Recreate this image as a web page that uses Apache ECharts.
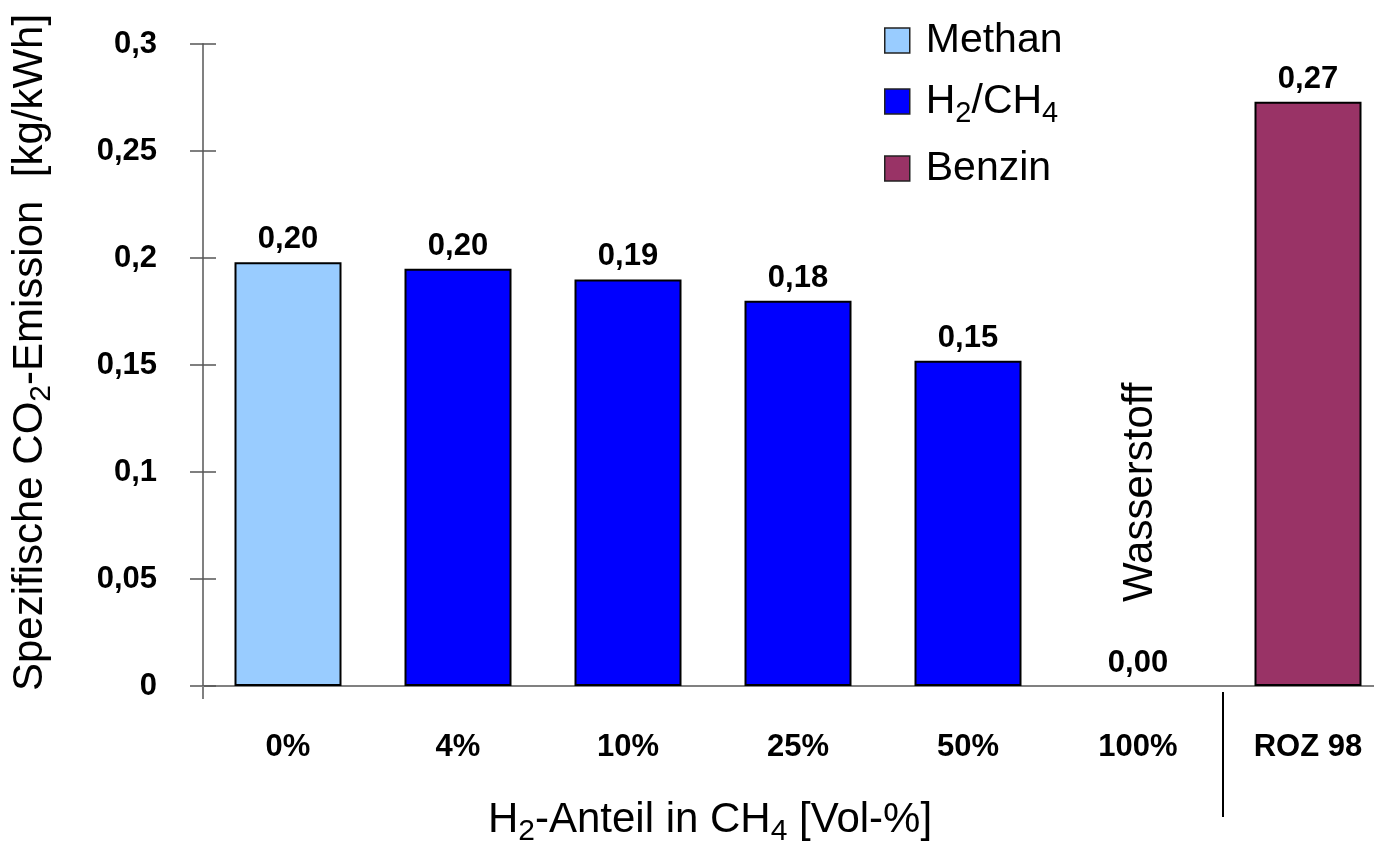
<!DOCTYPE html>
<html>
<head>
<meta charset="utf-8">
<script src="https://cdn.jsdelivr.net/npm/echarts@6/dist/echarts.min.js"></script>
<style>
  html, body { margin: 0; padding: 0; background: #fff; }
  #chart { width: 1374px; height: 849px; }
</style>
</head>
<body>
<div id="chart"></div>
<script>
// Specific CO2 emission per fuel / hydrogen share in methane
const categories = ['0%', '4%', '10%', '25%', '50%', '100%', 'ROZ 98'];
const methanValues = [0.198, '-', '-', '-', '-', '-', '-'];
const mixValues = ['-', 0.195, 0.190, 0.180, 0.152, 0, '-'];
const benzinValues = ['-', '-', '-', '-', '-', '-', 0.273];
const yMin = 0, yMax = 0.3, yStep = 0.05;

const FONT = '"Liberation Sans", Arial, Helvetica, sans-serif';
const AXIS_GRAY = '#808080';

const fmtTick = v => String(+v.toFixed(2)).replace('.', ',');
const fmtValue = p => (+p.value).toFixed(2).replace('.', ',');

const legendRich = {
  n: { fontFamily: FONT, fontSize: 41, color: '#000' },
  s: { fontFamily: FONT, fontSize: 29, color: '#000', padding: [24, 0, 0, 0] }
};
const legendNames = {
  'Methan': '{n|Methan}',
  'H2/CH4': '{n|H}{s|2}{n|/CH}{s|4}',
  'Benzin': '{n|Benzin}'
};

const barLabel = {
  show: true, position: 'top', distance: 7,
  fontFamily: FONT, fontSize: 31, fontWeight: 'bold', color: '#000',
  formatter: fmtValue
};
const barStyle = color => ({ color: color, borderColor: '#000', borderWidth: 2 });

const chart = echarts.init(document.getElementById('chart'), null, { renderer: 'canvas' });

chart.setOption({
  animation: false,
  backgroundColor: '#fff',
  textStyle: { fontFamily: FONT },
  grid: { left: 203, top: 44, width: 1190, height: 642, containLabel: false, outerBoundsMode: 'none' },
  legend: {
    orient: 'vertical', left: 879, top: 15,
    icon: 'rect',
    itemWidth: 25, itemHeight: 25, itemGap: 20,
    selectedMode: false,
    data: ['Methan', 'H2/CH4', 'Benzin'],
    formatter: name => legendNames[name],
    itemStyle: { borderColor: '#222', borderWidth: 1.5 },
    textStyle: { fontFamily: FONT, fontSize: 41, color: '#000', padding: [0, 0, 0, 11], rich: legendRich }
  },
  xAxis: {
    type: 'category',
    data: categories,
    boundaryGap: true,
    axisLine: { show: true, lineStyle: { color: AXIS_GRAY, width: 2 } },
    axisTick: { show: true, length: 13, interval: (i) => i === 0, lineStyle: { color: AXIS_GRAY, width: 2 } },
    axisLabel: { interval: 0, margin: 46, fontFamily: FONT, fontSize: 31, fontWeight: 'bold', color: '#000' },
    splitLine: { show: false },
    name: '{n|H}{s|2}{n|-Anteil in CH}{s|4}{n| [Vol-%]}',
    nameLocation: 'middle',
    nameGap: 107,
    nameTextStyle: {
      padding: [0, 176, 0, 0],
      rich: {
        n: { fontFamily: FONT, fontSize: 42, color: '#000' },
        s: { fontFamily: FONT, fontSize: 30, color: '#000', padding: [24, 0, 0, 0] }
      }
    }
  },
  yAxis: [
    {
      type: 'value', min: yMin, max: yMax, interval: yStep,
      axisLine: { show: true, lineStyle: { color: AXIS_GRAY, width: 2 } },
      axisTick: { show: true, inside: false, length: 13, lineStyle: { color: '#555', width: 1.5 } },
      axisLabel: { margin: 46, fontFamily: FONT, fontSize: 31, fontWeight: 'bold', color: '#000', formatter: fmtTick },
      splitLine: { show: false },
      name: '{n|Spezifische CO}{s|2}{n|-Emission  [kg/kWh]}',
      nameLocation: 'middle',
      nameGap: 146,
      nameTextStyle: {
        padding: [0, 0, 0, 25],
        rich: {
          n: { fontFamily: FONT, fontSize: 42, color: '#000' },
          s: { fontFamily: FONT, fontSize: 30, color: '#000', padding: [24, 0, 0, 0] }
        }
      }
    },
    {
      // second copy of the value axis carries the inward half of each tick
      type: 'value', min: yMin, max: yMax, interval: yStep, position: 'left',
      axisLine: { show: false },
      axisTick: { show: true, inside: true, length: 13, lineStyle: { color: '#555', width: 1.5 } },
      axisLabel: { show: false },
      splitLine: { show: false }
    }
  ],
  series: [
    {
      name: 'Methan', type: 'bar', stack: 'all', barWidth: 107,
      data: methanValues, itemStyle: barStyle('#99CCFF'), label: barLabel
    },
    {
      name: 'H2/CH4', type: 'bar', stack: 'all', barWidth: 107,
      data: mixValues.map(v => v === 0 ? { value: v, itemStyle: { borderWidth: 0 } } : v),
      itemStyle: barStyle('#0000FF'), label: barLabel
    },
    {
      name: 'Benzin', type: 'bar', stack: 'all', barWidth: 107,
      data: benzinValues, itemStyle: barStyle('#993366'), label: barLabel
    }
  ]
});

// annotations placed through the axes: the rotated "Wasserstoff" note and the divider below the axis
const toPx = (c, v) => chart.convertToPixel({ xAxisIndex: 0, yAxisIndex: 0 }, [c, v]);
const notePos = toPx('100%', 0.0905);
const leftCenter = toPx('100%', 0);
const rightCenter = toPx('ROZ 98', 0);
const dividerX = (leftCenter[0] + rightCenter[0]) / 2;
const axisY = leftCenter[1];

chart.setOption({
  graphic: [
    {
      type: 'text', x: notePos[0] + 2, y: notePos[1], rotation: Math.PI / 2,
      style: {
        text: 'Wasserstoff', font: '42px ' + FONT, fill: '#000',
        align: 'center', verticalAlign: 'middle'
      }
    },
    {
      type: 'line',
      shape: { x1: dividerX, y1: axisY + 6, x2: dividerX, y2: axisY + 131 },
      style: { stroke: '#000', lineWidth: 2 }
    }
  ]
});
</script>
</body>
</html>
